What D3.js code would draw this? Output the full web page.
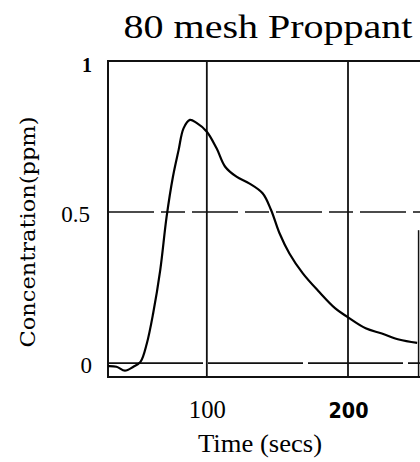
<!DOCTYPE html>
<html>
<head>
<meta charset="utf-8">
<script src="https://cdn.jsdelivr.net/npm/d3@7"></script>
<style>
  body { margin: 0; background: #fff; }
  svg { display: block; }
</style>
</head>
<body>
<div id="chart"></div>
<script>
// values
var timeSecs = [30, 36, 42, 48, 53, 57.5, 62, 67, 71.5, 76, 80, 83.5, 88, 92.5, 100, 107, 113, 121, 130, 139.5, 145.5, 151.5, 158.5, 168, 179.5, 191, 199.5, 212.5, 224, 236, 249];
var concentration = [-0.01, -0.012, -0.025, -0.012, 0.004, 0.065, 0.165, 0.308, 0.484, 0.617, 0.705, 0.777, 0.805, 0.796, 0.766, 0.71, 0.65, 0.617, 0.595, 0.562, 0.507, 0.43, 0.363, 0.297, 0.236, 0.181, 0.153, 0.115, 0.098, 0.078, 0.067];
var xTicks = [100, 200];
var yTicks = [0, 0.5, 1];

var svgWidth = 420;
var svgHeight = 462;

var svg = d3.select("#chart")
  .append("svg")
  .attr("width", svgWidth)
  .attr("height", svgHeight);

var xScale = d3.scaleLinear().domain([30, 251]).range([108, 420]);
var yScale = d3.scaleLinear().domain([-0.046, 1]).range([377, 61]);

var plotTop = yScale(1), plotBottom = yScale(-0.046), plotLeft = xScale(30);

// grid lines
svg.append("g")
  .selectAll("line")
  .data(xTicks)
  .enter()
  .append("line")
  .attr("x1", d => xScale(d))
  .attr("x2", d => xScale(d))
  .attr("y1", plotTop)
  .attr("y2", plotBottom)
  .attr("stroke", "#111")
  .attr("stroke-width", 1.8);

svg.append("line")
  .attr("x1", plotLeft).attr("x2", 420)
  .attr("y1", yScale(0.5)).attr("y2", yScale(0.5))
  .attr("stroke", "#111")
  .attr("stroke-width", 1.5)
  .attr("stroke-dasharray", "46,7,24,7");

svg.append("line")
  .attr("x1", plotLeft).attr("x2", 420)
  .attr("y1", yScale(0)).attr("y2", yScale(0))
  .attr("stroke", "#111")
  .attr("stroke-width", 1.6)
  .attr("stroke-dasharray", "95,5");

// frame
svg.append("path")
  .attr("d", `M420,${plotTop}H${plotLeft}V${plotBottom}H420`)
  .attr("fill", "none")
  .attr("stroke", "#111")
  .attr("stroke-width", 2);

svg.append("line")
  .attr("x1", xScale(250)).attr("x2", xScale(250))
  .attr("y1", yScale(0.44)).attr("y2", plotBottom)
  .attr("stroke", "#111")
  .attr("stroke-width", 1.5);

// curve
var line = d3.line()
  .x((d, i) => xScale(timeSecs[i]))
  .y(d => yScale(d))
  .curve(d3.curveCatmullRom);

svg.append("path")
  .datum(concentration)
  .attr("d", line)
  .attr("fill", "none")
  .attr("stroke", "#000")
  .attr("stroke-width", 2.2);

// axes (labels only, lines drawn above)
var xAxis = d3.axisBottom(xScale).tickValues(xTicks).tickSize(0).tickPadding(0);
var gx = svg.append("g")
  .attr("transform", "translate(0, 418)")
  .call(xAxis);
gx.select(".domain").remove();
gx.selectAll("text")
  .attr("dy", 0)
  .attr("fill", "#000")
  .style("font-family", d => d === 100 ? "Liberation Serif" : "DejaVu Sans")
  .style("font-size", d => d === 100 ? "26px" : "21px")
  .style("font-weight", d => d === 100 ? "normal" : "bold")
  .attr("textLength", d => d === 100 ? 37 : 40)
  .attr("lengthAdjust", "spacingAndGlyphs");

var yAxis = d3.axisLeft(yScale).tickValues(yTicks).tickSize(0)
  .tickFormat(d => d3.format("")(d));
var gy = svg.append("g").call(yAxis);
gy.select(".domain").remove();
gy.selectAll(".tick").attr("transform", null);
gy.selectAll("text")
  .attr("fill", "#000")
  .attr("dy", 0)
  .attr("text-anchor", "end")
  .attr("x", d => d === 0.5 ? 90 : 92)
  .attr("y", d => d === 1 ? 72 : d === 0.5 ? 222 : 373)
  .style("font-family", "Liberation Serif")
  .style("font-size", d => d === 1 ? "20px" : "23px")
  .style("font-weight", d => d === 1 ? "bold" : "normal");

// titles
svg.append("text")
  .attr("x", 268)
  .attr("y", 38)
  .attr("text-anchor", "middle")
  .attr("textLength", 289)
  .attr("lengthAdjust", "spacingAndGlyphs")
  .style("font-family", "Liberation Serif")
  .style("font-size", "33px")
  .text("80 mesh Proppant");

svg.append("text")
  .attr("x", 260)
  .attr("y", 452)
  .attr("text-anchor", "middle")
  .attr("textLength", 124)
  .attr("lengthAdjust", "spacingAndGlyphs")
  .style("font-family", "Liberation Serif")
  .style("font-size", "26px")
  .text("Time (secs)");

svg.append("text")
  .attr("transform", "translate(35, 232) rotate(-90)")
  .attr("text-anchor", "middle")
  .attr("textLength", 231)
  .attr("lengthAdjust", "spacingAndGlyphs")
  .style("font-family", "DejaVu Serif")
  .style("font-size", "20px")
  .text("Concentration(ppm)");
</script>
</body>
</html>
